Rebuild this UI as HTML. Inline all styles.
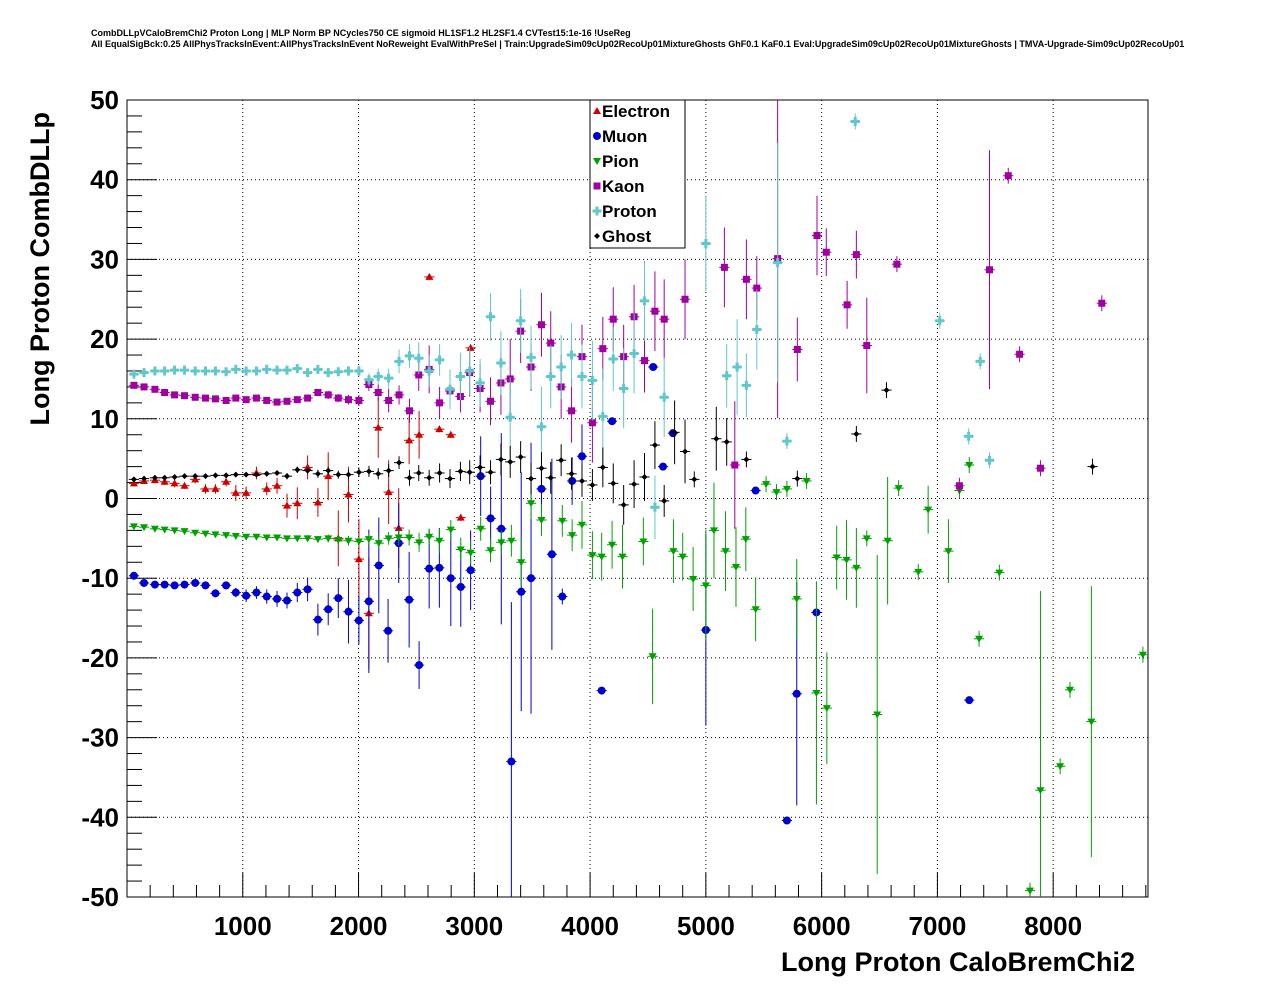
<!DOCTYPE html>
<html><head><meta charset="utf-8"><style>
body{margin:0;background:#fff;}
svg text{font-family:"Liberation Sans",sans-serif;}
</style></head><body>
<svg id="chart" width="1276" height="996" xmlns="http://www.w3.org/2000/svg">
<rect width="1276" height="996" fill="#fff"/>
<text x="91" y="36" font-size="9" font-weight="bold">CombDLLpVCaloBremChi2 Proton Long | MLP Norm BP NCycles750 CE sigmoid HL1SF1.2 HL2SF1.4 CVTest15:1e-16 !UseReg</text>
<text x="91" y="47" font-size="9" font-weight="bold">All EqualSigBck:0.25 AllPhysTracksInEvent:AllPhysTracksInEvent NoReweight EvalWithPreSel | Train:UpgradeSim09cUp02RecoUp01MixtureGhosts GhF0.1 KaF0.1 Eval:UpgradeSim09cUp02RecoUp01MixtureGhosts | TMVA-Upgrade-Sim09cUp02RecoUp01</text>
<g id="grid"></g><g id="axes"></g><g id="marks"></g>
<text x="1135" y="971" font-size="27" font-weight="bold" text-anchor="end">Long Proton CaloBremChi2</text>
<text transform="translate(49,112) rotate(-90)" font-size="27" font-weight="bold" text-anchor="end">Long Proton CombDLLp</text>
<g id="legend"></g>
</svg>
<script>
const xTicks=[1000,2000,3000,4000,5000,6000,7000,8000];
const yTicks=[-50,-40,-30,-20,-10,0,10,20,30,40,50];
const seriesNames=["Electron","Muon","Pion","Kaon","Proton","Ghost"];
const electron=[[60,1.9,0.4],[147,2.2,0.4],[241,2.3,0.4],[325,2.1,0.4],[411,1.9,0.5],[497,1.6,0.4],[589,2.4,0.5],[678,1.2,0.6],[764,1.2,0.6],[856,2.1,0.6],[940,0.7,1],[1029,0.7,0.8],[1118,3.2,0.8],[1207,1.2,0.8],[1296,1.6,1],[1382,-0.9,1.5],[1471,-0.6,2],[1560,3.9,1.5],[1649,-0.5,1.8],[1738,2.8,3],[1825,-5,3.5],[1913,0.5,3.5],[2003,-7.6,5],[2089,-14.4,7],[2170,8.9,3.8],[2260,0.8,4],[2347,-3.7,5],[2437,7.3,3],[2523,8.0,3],[2612,27.8,0.4],[2698,8.7,0.4],[2797,8.0,0.4],[2883,-2.4,0.4],[2968,18.9,0.4]];
const muon=[[60,-9.7,0.4],[147,-10.6,0.4],[241,-10.8,0.4],[325,-10.8,0.4],[411,-10.9,0.4],[497,-10.8,0.4],[589,-10.6,0.4],[678,-10.9,0.5],[764,-11.9,0.5],[856,-10.9,0.5],[940,-11.8,0.6],[1029,-12.2,0.8],[1118,-11.8,0.8],[1207,-12.3,0.9],[1296,-12.6,1],[1382,-12.8,1],[1471,-11.8,1.2],[1560,-11.4,1.5],[1649,-15.2,2],[1738,-13.9,2],[1825,-12.5,2.5],[1913,-14.2,4],[2003,-15.3,3],[2089,-12.9,9],[2175,-8.4,6],[2255,-16.6,4],[2347,-5.6,5],[2437,-12.7,6],[2523,-20.9,3],[2610,-8.8,5],[2698,-8.7,5],[2797,-10,6],[2883,-11.1,5],[2968,-9.0,5],[3055,2.8,5],[3141,-2.5,4],[3233,-3.8,12],[3320,-33,20],[3405,-11.7,15],[3490,-10,17],[3580,1.2,3],[3670,-7,12],[3760,-12.3,1],[3845,2.2,3],[3930,5.3,4],[4100,-24.1,0.4],[4190,9.7,0.4],[4545,16.5,0.4],[4630,4,0.4],[4715,8.2,0.4],[5000,-16.5,12],[5430,1,0.4],[5700,-40.4,0.4],[5785,-24.5,14],[5955,-14.3,0.4],[7275,-25.3,0.4]];
const pion=[[60,-3.5,0.3],[147,-3.6,0.3],[241,-3.8,0.3],[325,-3.9,0.3],[411,-4.0,0.3],[497,-4.1,0.3],[589,-4.3,0.3],[678,-4.4,0.3],[764,-4.5,0.3],[856,-4.6,0.3],[940,-4.7,0.3],[1029,-4.8,0.3],[1118,-4.8,0.3],[1207,-4.9,0.3],[1296,-4.9,0.3],[1382,-5.0,0.3],[1471,-5.0,0.3],[1560,-5.0,0.4],[1649,-5.1,0.4],[1738,-5.0,0.5],[1825,-5.2,0.5],[1913,-5.3,0.6],[2003,-5.4,0.6],[2089,-5.1,0.7],[2175,-5.6,0.7],[2260,-5.0,0.8],[2347,-4.9,1],[2437,-4.9,1],[2523,-5.5,1.2],[2610,-4.8,1],[2698,-5.3,1.5],[2797,-3.9,1.2],[2883,-6.4,1.5],[2968,-6.8,1.5],[3055,-3.8,1.5],[3140,-6.5,1.5],[3233,-5.5,1.5],[3320,-5.3,2],[3405,-8,3],[3490,-0.6,2],[3580,-2.7,2],[3760,-2.8,2],[3845,-4.6,2],[3930,-3.3,3],[4020,-7.1,3],[4100,-7.3,3],[4190,-5.8,3],[4280,-7.3,4],[4460,-5.4,3],[4540,-19.8,6],[4720,-6.6,4],[4800,-7.3,3],[4890,-10.1,4],[5000,-10.9,7],[5070,-4,6],[5170,-6.6,5],[5260,-8.6,5],[5345,-5.1,4],[5430,-13.9,4],[5520,1.8,1],[5610,0.8,1],[5700,1.2,1],[5785,-12.6,5],[5870,2.2,1],[5955,-24.4,14],[6045,-26.3,7],[6130,-7.4,4],[6215,-7.7,5],[6300,-8.7,5],[6390,-5,1],[6480,-27.1,20],[6570,-5.3,8],[6665,1.3,1],[6835,-9.2,1],[6920,-1.4,3],[7095,-6.6,4],[7190,1.0,1],[7275,4.2,1],[7360,-17.6,1],[7535,-9.3,1],[7800,-49.2,1],[7890,-36.6,25],[8060,-33.6,1],[8145,-24,1],[8330,-28,17],[8775,-19.6,1]];
const kaon=[[60,14.2,0.3],[147,14,0.3],[241,13.7,0.3],[325,13.3,0.3],[411,13,0.3],[497,12.9,0.3],[589,12.7,0.3],[678,12.6,0.3],[764,12.5,0.3],[856,12.3,0.3],[940,12.6,0.3],[1029,12.4,0.3],[1118,12.6,0.3],[1207,12.3,0.3],[1296,12.1,0.3],[1382,12.2,0.3],[1471,12.4,0.3],[1560,12.6,0.4],[1649,13.3,0.4],[1738,13,0.5],[1825,12.6,0.5],[1913,12.4,0.6],[2003,12.3,0.7],[2089,14.3,0.8],[2170,13.3,1],[2260,12.3,1.5],[2350,13,1.2],[2440,11,1.5],[2520,15.5,2],[2610,16.2,3],[2700,12,2],[2790,13.5,2],[2880,12.8,2],[2960,15.8,3],[3050,13.8,3],[3140,12.2,3],[3230,14.5,4],[3310,15,5],[3400,21,4],[3490,16.5,3],[3580,21.8,4],[3660,19.5,4],[3750,14,4],[3840,11,4],[3930,17.8,4],[4020,9.5,5],[4110,18.8,4],[4200,22.5,4],[4290,17.8,4],[4380,22.8,4],[4470,17.3,4],[4560,23.5,5],[4640,22.5,5],[4820,25,5],[5160,29,5],[5250,4.2,8],[5350,27.5,5],[5440,26.4,4],[5620,30.1,20],[5790,18.7,4],[5960,33,5],[6040,30.9,3],[6220,24.3,3],[6300,30.6,3],[6390,19.2,6],[6650,29.4,1],[7190,1.6,1],[7450,28.7,15],[7612,40.5,1],[7710,18.1,1],[7890,3.8,1],[8420,24.5,1]];
const proton=[[60,15.6,0.3],[147,15.8,0.3],[241,16,0.3],[325,16,0.3],[411,16.1,0.3],[497,16.1,0.3],[589,16,0.3],[678,16,0.3],[764,16,0.3],[856,15.9,0.3],[940,16.2,0.3],[1029,16,0.3],[1118,16,0.3],[1207,16.2,0.3],[1296,16.1,0.3],[1382,16.1,0.3],[1471,16.3,0.3],[1560,15.8,0.4],[1649,16.2,0.4],[1738,15.8,0.5],[1825,15.9,0.5],[1913,16,0.6],[2003,16,0.7],[2090,14.9,0.8],[2170,15.3,1],[2260,15.1,1.2],[2350,17.2,1.5],[2440,17.9,1.5],[2520,17.6,2],[2610,16,2],[2700,17.4,2],[2790,13.7,2.5],[2880,15.3,3],[2960,16,3],[3050,14.5,3],[3140,22.8,3],[3230,17,4],[3310,10.2,5],[3400,22.3,4],[3490,17.7,4],[3580,9,5],[3660,15.3,4],[3750,16.5,4],[3840,18,4],[3930,15.3,4],[4020,14.8,5],[4110,10.3,6],[4200,17.5,4],[4290,13.8,5],[4380,18.2,5],[4470,24.8,5],[4560,-1.1,4],[4640,12.7,5],[5000,32,6],[5180,15.4,4],[5270,16.5,6],[5350,14.2,4],[5440,21.2,5],[5620,29.6,15],[5700,7.2,1],[6290,47.3,1],[7020,22.3,1],[7270,7.8,1],[7370,17.2,1],[7450,4.8,1]];
const ghost=[[60,2.4,0.3],[147,2.5,0.3],[241,2.6,0.3],[325,2.6,0.3],[411,2.7,0.3],[497,2.8,0.3],[589,2.8,0.3],[678,2.8,0.3],[764,2.9,0.3],[856,2.9,0.3],[940,3.0,0.3],[1029,3.0,0.3],[1118,3.0,0.3],[1207,3.1,0.3],[1296,3.2,0.3],[1382,2.8,0.4],[1471,3.6,0.4],[1560,3.5,0.4],[1649,3.1,0.5],[1738,3.5,0.5],[1825,3.0,0.5],[1913,3.0,0.6],[2003,3.3,0.6],[2090,3.4,0.7],[2170,3.1,0.7],[2260,3.5,0.8],[2350,4.5,0.8],[2440,2.6,1],[2520,3.2,1],[2610,2.6,1],[2700,3.2,1.2],[2790,2.5,1.2],[2880,3.4,1.2],[2960,3.3,1.5],[3050,3.9,1.5],[3140,3.3,1.5],[3230,4.9,2],[3310,4.6,2],[3400,5.2,2],[3490,2.5,2],[3580,3.8,2],[3660,2.6,2],[3750,4.8,2],[3840,3.1,2],[3930,2.2,2],[4020,1.7,2],[4110,3.9,2.5],[4200,1.9,2.5],[4290,-0.8,2.5],[4380,1.8,3],[4470,2.7,3],[4560,6.7,3],[4640,-0.3,2],[4730,8.3,4],[4820,5.9,4],[4900,2.4,1],[5090,7.5,4],[5180,7.1,3],[5350,4.9,1],[5790,2.5,1],[6300,8.1,1],[6560,13.6,1],[8340,4.0,1]];
const allSeries=[electron,muon,pion,kaon,proton,ghost];
const colors=["#d00000","#0000d0","#00a000","#a000a0","#60c8c8","#000000"];
const L=127,R=1148,T=100,B=897,XMAX=8819;
const sx=v=>L+(R-L)*v/XMAX;
const sy=v=>T+(B-T)*(50-v)/100;
const NS="http://www.w3.org/2000/svg";
function mk(tag,attrs,parent){const e=document.createElementNS(NS,tag);for(const k in attrs)e.setAttribute(k,attrs[k]);parent.appendChild(e);return e;}
const grid=document.getElementById('grid'),axes=document.getElementById('axes'),marks=document.getElementById('marks');
xTicks.forEach(t=>{const g=mk('line',{x1:sx(t),x2:sx(t),y1:T,y2:B,stroke:'#000','stroke-width':1,'stroke-dasharray':'1,3'},grid);


const lb=mk('text',{x:sx(t),y:935,'font-size':26,'font-weight':'bold','text-anchor':'middle'},axes);lb.textContent=t;

});
for(let v=200;v<XMAX;v+=200){mk('line',{x1:sx(v),x2:sx(v),y1:B,y2:B-(v%1000===0?24:12),stroke:'#000'},axes);}
yTicks.forEach(t=>{if(t>-50&&t<50){const g=mk('line',{x1:L,x2:R,y1:sy(t),y2:sy(t),stroke:'#000','stroke-dasharray':'1,3'},grid);

}
const lb=mk('text',{x:119,y:sy(t)+9,'font-size':26,'font-weight':'bold','text-anchor':'end'},axes);lb.textContent=t;

});
for(let v=-48;v<50;v+=2){mk('line',{x1:L,x2:L+(v%10===0?30:15),y1:sy(v),y2:sy(v),stroke:'#000'},axes);}
const fr=mk('rect',{x:L,y:T,width:R-L,height:B-T,fill:'none',stroke:'#000','stroke-width':1},axes);


function marker(i,cx,cy,parent){const c=colors[i];
 if(i===0)return mk('path',{d:`M${cx},${cy-4}L${cx+4},${cy+3}L${cx-4},${cy+3}Z`,fill:c},parent);
 if(i===1)return mk('circle',{cx:cx,cy:cy,r:4,fill:c},parent);
 if(i===2)return mk('path',{d:`M${cx-4},${cy-3}L${cx+4},${cy-3}L${cx},${cy+4}Z`,fill:c},parent);
 if(i===3)return mk('rect',{x:cx-3.5,y:cy-3.5,width:7,height:7,fill:c},parent);
 if(i===4)return mk('path',{d:`M${cx-1.5},${cy-4.5}h3v3h3v3h-3v3h-3v-3h-3v-3h3Z`,fill:c},parent);
 return mk('path',{d:`M${cx},${cy-3}L${cx+3},${cy}L${cx},${cy+3}L${cx-3},${cy}Z`,fill:c},parent);}
allSeries.forEach((s,i)=>{const g=mk('g',{},marks);


s.forEach(p=>{const cx=sx(p[0]),cy=sy(p[1]);
 const y1=Math.max(T,sy(p[1]+p[2])),y2=Math.min(B,sy(p[1]-p[2]));
 mk('line',{x1:cx,x2:cx,y1:y1,y2:y2,stroke:colors[i],'stroke-width':1},g);
 mk('line',{x1:sx(p[0]-44),x2:sx(p[0]+44),y1:cy,y2:cy,stroke:colors[i],'stroke-width':1},g);
 const m=marker(i,cx,cy,g);
 
 });});
const lg=document.getElementById('legend');
mk('rect',{x:590,y:100,width:95,height:148,fill:'#fff',stroke:'#000'},lg);
seriesNames.forEach((n,i)=>{const y=111+25*i;
 const m=marker(i,597,y,lg);
 
 
 const t=mk('text',{x:602,y:y+6,'font-size':17,'font-weight':'bold'},lg);t.textContent=n;
 
 });
</script>
</body></html>
